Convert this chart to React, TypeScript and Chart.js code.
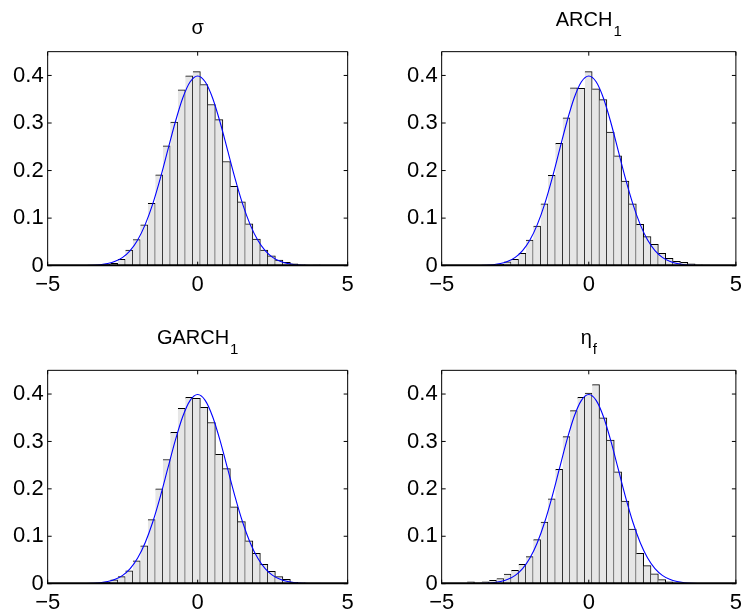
import React, { useEffect, useRef } from 'react';
import { Chart, registerables } from 'chart.js';

Chart.register(...registerables);

// ---------- data ----------
const binCentersA = [
  -4.035, -3.785, -3.535, -3.285, -3.035, -2.785, -2.535, -2.285, -2.035, -1.785, -1.535,
  -1.285, -1.035, -0.785, -0.535, -0.285, -0.035, 0.215, 0.465, 0.715, 0.965, 1.215,
  1.465, 1.715, 1.965, 2.215, 2.465, 2.715, 2.965, 3.215, 3.465, 3.715, 3.965,
];
const binCentersB = [
  -4.01, -3.76, -3.51, -3.26, -3.01, -2.76, -2.51, -2.26, -2.01, -1.76, -1.51,
  -1.26, -1.01, -0.76, -0.51, -0.26, -0.01, 0.24, 0.49, 0.74, 0.99, 1.24,
  1.49, 1.74, 1.99, 2.24, 2.49, 2.74, 2.99, 3.24, 3.49, 3.74, 3.99,
];

const sigmaHeights = [
  0.0005, 0.0005, 0.001, 0.001, 0.003, 0.005, 0.0135, 0.033, 0.055, 0.086, 0.131,
  0.191, 0.252, 0.302, 0.37, 0.399, 0.408, 0.381, 0.339, 0.307, 0.219, 0.167,
  0.134, 0.088, 0.056, 0.033, 0.0205, 0.012, 0.007, 0.004, 0.002, 0.001, 0.002,
];
const archHeights = [
  0.0003, 0.0005, 0.001, 0.001, 0.003, 0.008, 0.0135, 0.026, 0.054, 0.083, 0.13,
  0.19, 0.257, 0.311, 0.374, 0.373, 0.408, 0.372, 0.349, 0.281, 0.231, 0.178,
  0.13, 0.087, 0.061, 0.045, 0.026, 0.0155, 0.009, 0.007, 0.004, 0.002, 0.001,
];
const garchHeights = [
  0.0005, 0.0005, 0.0005, 0.001, 0.003, 0.008, 0.015, 0.027, 0.048, 0.08, 0.135,
  0.2, 0.262, 0.319, 0.37, 0.393, 0.391, 0.372, 0.34, 0.273, 0.2425, 0.162,
  0.131, 0.0905, 0.064, 0.041, 0.026, 0.015, 0.009, 0.003, 0.002, 0.001, 0.001,
];
const etaHeights = [
  0.004, 0.002, 0.004, 0.007, 0.011, 0.02, 0.028, 0.041, 0.057, 0.093, 0.13,
  0.179, 0.241, 0.31, 0.365, 0.393, 0.402, 0.42, 0.35, 0.303, 0.236, 0.174,
  0.115, 0.064, 0.038, 0.0205, 0.0085, 0.004, 0.001, 0.0005, 0.0003, 0.0003, 0.0003,
];

const curveX = [
  -4, -3.75, -3.5, -3.25, -3, -2.75, -2.5, -2.25, -2, -1.75, -1.5, -1.25, -1, -0.75, -0.5, -0.25,
  0, 0.25, 0.5, 0.75, 1, 1.25, 1.5, 1.75, 2, 2.25, 2.5, 2.75, 3, 3.25, 3.5, 3.75, 4,
];
const curveY = [
  0.0001, 0.0004, 0.0009, 0.002, 0.0044, 0.0091, 0.0175, 0.0317, 0.054, 0.0863, 0.1295,
  0.1826, 0.242, 0.3011, 0.3521, 0.3867, 0.3989, 0.3867, 0.3521, 0.3011, 0.242, 0.1826,
  0.1295, 0.0863, 0.054, 0.0317, 0.0175, 0.0091, 0.0044, 0.002, 0.0009, 0.0004, 0.0001,
];

const xTickValues = [-5, 0, 5];
const xTickLabels = ['\u22125', '0', '5'];
const yTickValues = [0, 0.1, 0.2, 0.3, 0.4];
const yTickLabels = ['0', '0.1', '0.2', '0.3', '0.4'];

const titleMains = ['σ', 'ARCH', 'GARCH', 'η'];
const titleSubs = ['', '1', '1', 'f'];

// ---------- style ----------
const FONT = '"Liberation Sans", Arial, Helvetica, sans-serif';
const PANEL_W = 374;
const PANEL_H = 306;
const COL_LEFT = [47.67, 67.67];
const COL_RIGHT_PAD = [26.33, 6.33];
const ROW_TOP_PAD = [51.67, 64.33];
const ROW_BOTTOM = [40.33, 28.33];

const framePlugin = {
  id: 'frameTicks',
  afterDraw(chart: any) {
    const { ctx, chartArea } = chart;
    const { left, right, top, bottom } = chartArea;
    const xs = chart.scales.x;
    const ys = chart.scales.y;
    ctx.save();
    ctx.strokeStyle = '#000';
    ctx.lineWidth = 1;
    ctx.beginPath();
    ctx.moveTo(left, bottom);
    ctx.lineTo(left, top);
    ctx.lineTo(right, top);
    ctx.lineTo(right, bottom);
    const tl = 4;
    yTickValues.forEach((v) => {
      const py = ys.getPixelForValue(v);
      ctx.moveTo(left, py);
      ctx.lineTo(left + tl, py);
      ctx.moveTo(right, py);
      ctx.lineTo(right - tl, py);
    });
    xTickValues.forEach((v) => {
      const px = xs.getPixelForValue(v);
      ctx.moveTo(px, bottom);
      ctx.lineTo(px, bottom - tl);
      ctx.moveTo(px, top);
      ctx.lineTo(px, top + tl);
    });
    ctx.stroke();
    // heavier bottom axis line
    ctx.beginPath();
    ctx.lineWidth = 1.8;
    ctx.moveTo(left - 0.5, bottom - 0.4);
    ctx.lineTo(right + 0.5, bottom - 0.4);
    ctx.stroke();
    ctx.restore();
  },
};

const titlePlugin = {
  id: 'panelTitle',
  afterDraw(chart: any, _args: any, opts: any) {
    const { ctx, chartArea } = chart;
    const main: string = opts.main || '';
    const sub: string = opts.sub || '';
    const cx = (chartArea.left + chartArea.right) / 2;
    ctx.save();
    ctx.fillStyle = '#000';
    ctx.textAlign = 'left';
    ctx.textBaseline = 'alphabetic';
    ctx.font = `20px ${FONT}`;
    const mw = ctx.measureText(main).width;
    ctx.font = `15px ${FONT}`;
    const sw = sub ? ctx.measureText(sub).width + 1 : 0;
    const x0 = cx - (mw + sw) / 2;
    const mainBase = sub ? chartArea.top - 26 : chartArea.top - 18;
    ctx.font = `20px ${FONT}`;
    ctx.fillText(main, x0, mainBase);
    if (sub) {
      ctx.font = `15px ${FONT}`;
      ctx.fillText(sub, x0 + mw + 1, chartArea.top - 16);
    }
    ctx.restore();
  },
};

type PanelSpec = {
  idx: number;
  col: number;
  row: number;
  centers: number[];
  heights: number[];
};

const panels: PanelSpec[] = [
  { idx: 0, col: 0, row: 0, centers: binCentersA, heights: sigmaHeights },
  { idx: 1, col: 1, row: 0, centers: binCentersB, heights: archHeights },
  { idx: 2, col: 0, row: 1, centers: binCentersA, heights: garchHeights },
  { idx: 3, col: 1, row: 1, centers: binCentersB, heights: etaHeights },
];

function Panel({ spec }: { spec: PanelSpec }) {
  const ref = useRef<HTMLCanvasElement | null>(null);
  useEffect(() => {
    if (!ref.current) return;
    const { col, row } = spec;
    const chart = new Chart(ref.current, {
      type: 'bar',
      data: {
        datasets: [
          {
            type: 'line',
            data: curveX.map((x, i) => ({ x, y: curveY[i] })),
            borderColor: '#0000ff',
            borderWidth: 1.1,
            pointRadius: 0,
            cubicInterpolationMode: 'monotone',
            fill: false,
            order: 0,
          } as any,
          {
            type: 'bar',
            data: spec.centers.map((x, i) => ({ x, y: spec.heights[i] })),
            backgroundColor: '#e6e6e6',
            borderColor: '#000000',
            borderWidth: 1,
            borderSkipped: 'left',
            barPercentage: 1,
            categoryPercentage: 1,
            order: 1,
          } as any,
        ],
      },
      options: {
        responsive: false,
        animation: false,
        devicePixelRatio: 1,
        layout: {
          padding: { left: 0, right: COL_RIGHT_PAD[col], top: ROW_TOP_PAD[row], bottom: 0 },
        },
        plugins: {
          legend: { display: false },
          tooltip: { enabled: false },
          title: { display: false },
          panelTitle: { main: titleMains[spec.idx], sub: titleSubs[spec.idx] },
        } as any,
        scales: {
          x: {
            type: 'linear',
            min: -5,
            max: 5,
            offset: false,
            grid: { display: false, offset: false, drawTicks: false },
            border: { display: false },
            afterBuildTicks: (s: any) => {
              s.ticks = xTickValues.map((v) => ({ value: v }));
            },
            afterFit: (s: any) => {
              s.height = ROW_BOTTOM[row];
            },
            ticks: {
              padding: 6,
              maxRotation: 0,
              autoSkip: false,
              color: '#000',
              font: { family: FONT, size: 22 },
              callback: (_v: any, i: number) => xTickLabels[i],
            },
          },
          y: {
            type: 'linear',
            min: 0,
            max: 0.45,
            grid: { display: false, drawTicks: false },
            border: { display: false },
            afterBuildTicks: (s: any) => {
              s.ticks = yTickValues.map((v) => ({ value: v }));
            },
            afterFit: (s: any) => {
              s.width = COL_LEFT[col];
            },
            ticks: {
              padding: 4,
              autoSkip: false,
              color: '#000',
              font: { family: FONT, size: 22 },
              callback: (_v: any, i: number) => yTickLabels[i],
            },
          },
        },
      } as any,
      plugins: [framePlugin, titlePlugin],
    });
    return () => chart.destroy();
  }, [spec]);
  return (
    <canvas
      ref={ref}
      width={PANEL_W}
      height={PANEL_H}
      style={{
        position: 'absolute',
        left: spec.col * PANEL_W,
        top: spec.row * PANEL_H,
        width: PANEL_W,
        height: PANEL_H,
      }}
    />
  );
}

export default function App() {
  return (
    <div
      style={{
        position: 'absolute',
        left: 0,
        top: 0,
        width: 748,
        height: 612,
        background: '#ffffff',
        overflow: 'hidden',
      }}
    >
      {panels.map((p) => (
        <Panel key={p.idx} spec={p} />
      ))}
    </div>
  );
}
